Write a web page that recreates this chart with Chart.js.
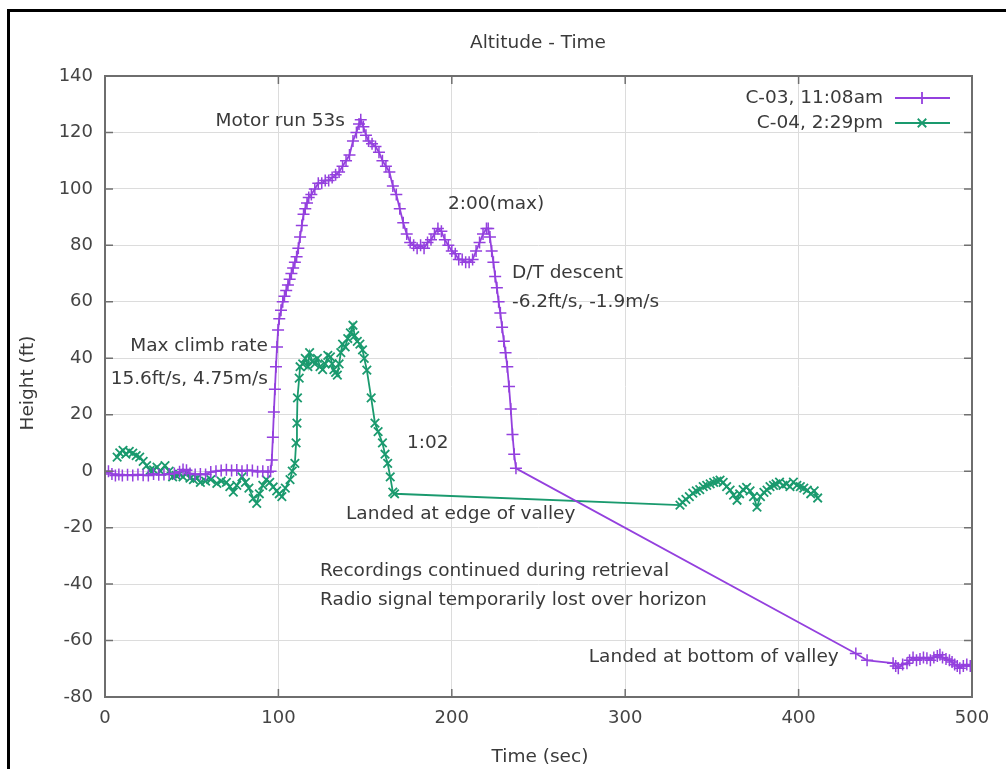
<!DOCTYPE html>
<html>
<head>
<meta charset="utf-8">
<title>Altitude - Time</title>
<script src="https://cdn.jsdelivr.net/npm/chart.js@4.4.1/dist/chart.umd.min.js"></script>
<style>
  html, body { margin: 0; padding: 0; background: #fff; }
  #wrap { position: relative; width: 1006px; height: 769px; overflow: hidden; }
  #frame { position: absolute; left: 7px; top: 9px; width: 1100px; height: 900px; border-top: 3px solid #000; border-left: 3px solid #000; }
  canvas { position: absolute; left: 0; top: 0; }
</style>
</head>
<body>
<div id="wrap">
  <div id="frame"></div>
  <canvas id="altChart" width="1006" height="769"></canvas>
</div>
<script>
// C-03, 11:08am
const c03Time = [0, 2, 4, 6, 8, 10, 13, 16, 19, 22, 25, 28, 31, 34, 37, 40, 43, 45, 47, 49, 52, 55, 58, 61, 64, 67, 70, 73, 76, 79, 82, 85, 88, 91, 94, 95.5,
  96.2, 96.8, 97.4, 98, 98.6, 99.2, 99.8, 100.5, 101.5, 102.5, 103.5, 104.5, 105.5, 106.5, 107.5, 108.5, 109.5, 110.5, 111.5, 112.5, 113.5, 114.5, 115.5, 116.5, 117.5,
  119, 121, 123, 125, 127, 129, 131, 133, 135, 137, 139, 141, 143, 145, 146.5, 147.5, 149, 150.5, 152, 154, 156, 158, 160, 162, 164, 166, 168, 170, 172, 174,
  176, 178, 180, 182, 184, 186, 188, 190, 192, 194, 196, 198, 200, 202, 204, 206, 208, 210, 212, 214, 216, 218, 220, 221,
  222, 223, 224, 225, 226, 227, 228, 229, 230, 231, 232, 233, 234, 235, 236, 237,
  433, 439.5, 454.5, 456, 457.5, 460, 462.5, 464, 466, 468, 470, 472, 474, 476, 478, 480, 481.5, 483, 485, 487, 488.5, 490, 491.5, 493, 495, 497, 499, 500];
const c03Height = [-0.5, 0, -1, -1.5, -1.2, -1.5, -1.3, -1.5, -1.2, -1.4, -1.5, -1, -1.3, -1.2, -1, -0.8, -0.2, 0.6, 0.3, -0.8, -1.2, -1, -1.2, -0.3, 0, 0.2, 0.5, 0.2, 0.4, 0, 0.3, 0.2, -0.2, 0, -0.3, 0,
  4, 12, 21, 29, 37, 44, 50, 54, 57, 60, 62, 64, 66, 68, 70, 72, 74, 76, 79, 83, 87, 91, 93, 95, 97,
  98, 100, 102, 102, 103, 103, 104, 105, 106, 108, 110, 112, 117, 120, 123, 124.5, 122, 119, 117, 116, 115, 113, 110, 108, 106, 101, 98, 93, 88, 84,
  81, 80, 79, 80, 79, 81, 82, 84, 86, 85, 82, 80, 78, 77, 75, 75, 74, 74, 75, 78, 81, 84, 86, 86,
  83, 78, 74, 69, 65, 60, 56, 51, 46, 42, 37, 30, 22, 13, 6, 1,
  -64.6, -67, -68, -69, -69.8, -68.5, -68, -67, -66, -67, -66.5, -66, -66.3, -67, -66, -65.5, -65, -66, -66.5, -67, -67.6, -68.5, -69, -69.8, -69, -68.5, -69, -69];

// C-04, 2:29pm
const c04Time = [7, 8.5, 10.4, 12, 14, 16, 18, 20, 22, 24, 26, 28, 30, 32, 34.6, 37, 39, 41, 43, 45, 47, 49, 51, 53, 55, 58, 61, 64.5, 67, 70, 72, 74, 76, 79, 81, 83, 85.5, 87.5, 89, 91, 93, 95, 97, 99, 100.5, 102, 104, 106.7, 108, 109.5,
  110.2, 110.7, 111, 112, 112.5, 114, 115.5, 117, 118, 119.5, 121, 122.5, 124, 125.5, 127, 128.5, 130, 131, 132, 133, 134, 135, 136, 137, 138.5, 140, 141.5, 143, 144, 145.5, 147, 148.5, 149.5, 151, 153.5, 155.7, 157.5, 160, 161.5, 163, 164.5, 166, 167,
  331.6, 333, 335, 337, 339, 341, 343, 345, 347, 349, 351, 353, 354.7, 356.5, 358.5, 360.5, 362.5, 364.5, 366, 368, 370, 372, 374, 376, 378, 380, 381.8, 383.5, 385.5, 387, 389, 391, 393, 395, 397, 399, 401, 403, 405, 407, 409, 411];
const c04Height = [5, 6.5, 7.4, 6, 7, 6.4, 5.5, 5, 3.5, 2, 0.3, 0.5, 1.4, 0, 2, 0, -2, -1.5, -1, -2, -0.7, -2.5, -3, -2.5, -4, -3.5, -3, -4.3, -3.5, -4, -5.5, -7.4, -5, -2, -4, -6, -9.6, -11.4, -8, -5, -3, -4, -5.6, -7, -8, -9, -6, -3, 0, 2.8,
  10, 17, 26, 33, 37, 38, 40, 37, 42, 39, 38, 40, 37, 36, 38, 41, 40.5, 38, 36, 35, 34, 38, 42, 45, 44, 47, 49, 51.7, 48, 46, 45, 43, 40, 35.8, 26, 17, 14, 10, 6, 2.8, -2, -7.4, -8,
  -12, -11, -10, -9, -7.8, -7, -6.5, -5.5, -5, -4.5, -4, -3.5, -3.2, -4, -5.5, -6.7, -8.5, -10.3, -8, -6.5, -5.7, -7, -9, -12.7, -9, -7.5, -6.7, -5.5, -5, -4.5, -3.9, -5, -4.5, -5.5, -3.9, -5, -5.5, -6, -6.7, -8, -7, -9.5];

const seriesNames = ['C-03, 11:08am', 'C-04, 2:29pm'];
const xTicks = [0, 100, 200, 300, 400, 500];
const yTicks = [140, 120, 100, 80, 60, 40, 20, 0, -20, -40, -60, -80];

// text labels placed in data coordinates, like gnuplot "set label"
const labels = [
  { text: 'Motor run 53s', x: 138.4, y: 124, align: 'right' },
  { text: '2:00(max)', x: 197.8, y: 94.6, align: 'left' },
  { text: 'D/T descent', x: 234.7, y: 70.1, align: 'left' },
  { text: '-6.2ft/s, -1.9m/s', x: 234.7, y: 59.9, align: 'left' },
  { text: 'Max climb rate', x: 94, y: 44.3, align: 'right' },
  { text: '15.6ft/s, 4.75m/s', x: 94, y: 32.6, align: 'right' },
  { text: '1:02', x: 174.2, y: 9.9, align: 'left' },
  { text: 'Landed at edge of valley', x: 139, y: -15.2, align: 'left' },
  { text: 'Recordings continued during retrieval', x: 124, y: -35.4, align: 'left' },
  { text: 'Radio signal temporarily lost over horizon', x: 124, y: -45.7, align: 'left' },
  { text: 'Landed at bottom of valley', x: 279, y: -65.9, align: 'left' }
];

const PURPLE = '#9440de';
const GREEN = '#1a9a6e';
const FONT = '"DejaVu Sans", sans-serif';
const TXT = '#3a3a3a';

function toPoints(xs, ys) {
  return xs.map((x, i) => ({ x: x, y: ys[i] }));
}

const gnuplotPlugin = {
  id: 'gnuplotLook',
  afterDatasetsDraw(chart) {
    const ctx = chart.ctx;
    const a = chart.chartArea;
    const sx = chart.scales.x;
    const sy = chart.scales.y;
    ctx.save();

    // tick marks on all four sides, pointing inwards
    ctx.strokeStyle = '#707070';
    ctx.lineWidth = 1.5;
    ctx.beginPath();
    xTicks.forEach(v => {
      const px = sx.getPixelForValue(v);
      ctx.moveTo(px, a.bottom); ctx.lineTo(px, a.bottom - 8);
      ctx.moveTo(px, a.top); ctx.lineTo(px, a.top + 8);
    });
    yTicks.forEach(v => {
      const py = sy.getPixelForValue(v);
      ctx.moveTo(a.left, py); ctx.lineTo(a.left + 8, py);
      ctx.moveTo(a.right, py); ctx.lineTo(a.right - 8, py);
    });
    ctx.stroke();

    // border
    ctx.lineWidth = 2;
    ctx.strokeStyle = '#6e6e6e';
    ctx.strokeRect(a.left, a.top, a.right - a.left, a.bottom - a.top);

    // labels
    ctx.font = '18.5px ' + FONT;
    ctx.fillStyle = TXT;
    ctx.textBaseline = 'middle';
    labels.forEach(l => {
      ctx.textAlign = l.align;
      ctx.fillText(l.text, sx.getPixelForValue(l.x), sy.getPixelForValue(l.y));
    });

    // legend (top right, gnuplot style)
    const keyColors = [PURPLE, GREEN];
    const keyStyles = ['cross', 'crossRot'];
    seriesNames.forEach((name, i) => {
      const y = a.top + 22 + i * 25;
      ctx.textAlign = 'right';
      ctx.fillStyle = TXT;
      ctx.fillText(name, a.right - 89, y);
      ctx.strokeStyle = keyColors[i];
      ctx.lineWidth = 1.8;
      ctx.beginPath();
      ctx.moveTo(a.right - 77, y);
      ctx.lineTo(a.right - 22, y);
      ctx.stroke();
      Chart.helpers.drawPoint(ctx, { pointStyle: keyStyles[i], radius: 6, borderWidth: 1.8 }, a.right - 50, y);
    });

    // title and axis titles
    ctx.fillStyle = TXT;
    ctx.textAlign = 'center';
    ctx.fillText('Altitude - Time', 538, 43);
    ctx.fillText('Time (sec)', 540, 757);
    ctx.translate(28, 383);
    ctx.rotate(-Math.PI / 2);
    ctx.fillText('Height (ft)', 0, 0);
    ctx.restore();
  }
};

const ctxAlt = document.getElementById('altChart').getContext('2d');
const altChart = new Chart(ctxAlt, {
  type: 'scatter',
  data: {
    datasets: [
      {
        label: seriesNames[0],
        data: toPoints(c03Time, c03Height),
        showLine: true,
        borderColor: PURPLE,
        backgroundColor: PURPLE,
        borderWidth: 1.8,
        pointStyle: 'cross',
        pointRadius: 6,
        pointBorderWidth: 1.5,
        pointBorderColor: PURPLE
      },
      {
        label: seriesNames[1],
        data: toPoints(c04Time, c04Height),
        showLine: true,
        borderColor: GREEN,
        backgroundColor: GREEN,
        borderWidth: 1.8,
        pointStyle: 'crossRot',
        pointRadius: 6,
        pointBorderWidth: 1.8,
        pointBorderColor: GREEN
      }
    ]
  },
  options: {
    responsive: false,
    animation: false,
    layout: { padding: { top: 76, right: 34, left: 0, bottom: 0 } },
    plugins: {
      legend: { display: false },
      title: { display: false },
      tooltip: { enabled: false }
    },
    scales: {
      x: {
        type: 'linear',
        min: 0,
        max: 500,
        afterFit: s => { s.height = 72; },
        afterBuildTicks: s => { s.ticks = xTicks.map(v => ({ value: v })); },
        grid: { color: '#dcdcdc', lineWidth: 1, drawTicks: false },
        border: { display: false },
        ticks: { color: '#444', font: { family: FONT, size: 18 }, padding: 11, maxRotation: 0 }
      },
      y: {
        type: 'linear',
        min: -80,
        max: 140,
        afterFit: s => { s.width = 105; },
        afterBuildTicks: s => { s.ticks = yTicks.map(v => ({ value: v })); },
        grid: { color: '#dcdcdc', lineWidth: 1, drawTicks: false },
        border: { display: false },
        ticks: { color: '#444', font: { family: FONT, size: 18 }, padding: 12 }
      }
    }
  },
  plugins: [gnuplotPlugin]
});
</script>
</body>
</html>
